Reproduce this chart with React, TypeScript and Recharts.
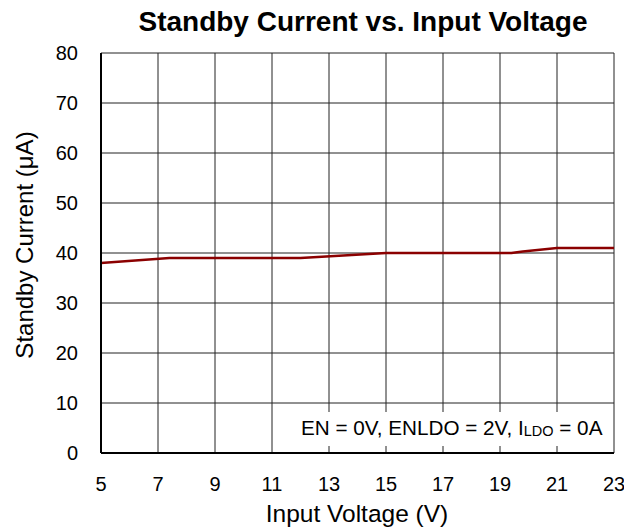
import { LineChart, Line, XAxis, YAxis, CartesianGrid } from 'recharts';

const voltage = [5, 7.4, 12, 15, 19.4, 19.8, 21, 23];
const current = [38, 39, 39, 40, 40, 40.3, 41, 41];
const xTicks = [5, 7, 9, 11, 13, 15, 17, 19, 21, 23];
const yTicks = [0, 10, 20, 30, 40, 50, 60, 70, 80];

const data = voltage.map((v, i) => ({ v, i: current[i] }));

const font = 'Arial, "Liberation Sans", sans-serif';

const App = () => {
    return (
        <div style={{ position: 'absolute', left: 0, top: 0, width: 624, height: 528, background: '#fff' }}>
            <LineChart width={624} height={528} data={data} margin={{ top: 53, right: 10, bottom: 45, left: 41 }}>
                <CartesianGrid stroke="#222" strokeWidth={1} horizontalValues={yTicks} verticalValues={xTicks} />
                <XAxis
                    dataKey="v"
                    type="number"
                    domain={[5, 23]}
                    ticks={xTicks}
                    height={30}
                    tickLine={false}
                    tickSize={0}
                    tickMargin={24}
                    axisLine={{ stroke: '#000', strokeWidth: 2 }}
                    tick={{ fill: '#000', fontSize: 20, fontFamily: font }}
                />
                <YAxis
                    type="number"
                    domain={[0, 80]}
                    ticks={yTicks}
                    width={60}
                    tickLine={false}
                    tickSize={0}
                    tickMargin={23}
                    axisLine={{ stroke: '#000', strokeWidth: 2 }}
                    tick={{ fill: '#000', fontSize: 20, fontFamily: font }}
                />
                <rect x={296} y={412} width={316} height={34} fill="#fff" />
                <text x={301} y={435} fontSize={20.7} fontFamily={font} fill="#000">
                    EN = 0V, ENLDO = 2V, I
                    <tspan fontSize={14.5} dy={1}>LDO</tspan>
                    <tspan dy={-1}> = 0A</tspan>
                </text>
                <Line
                    dataKey="i"
                    type="linear"
                    stroke="#8b0000"
                    strokeWidth={2.5}
                    dot={false}
                    isAnimationActive={false}
                />
                <text x={363} y={31} textAnchor="middle" fontSize={28} fontWeight="bold" fontFamily={font} fill="#000">
                    Standby Current vs. Input Voltage
                </text>
                <text x={357} y={522} textAnchor="middle" fontSize={24.5} fontFamily={font} fill="#000">
                    Input Voltage (V)
                </text>
                <text
                    x={33}
                    y={245}
                    textAnchor="middle"
                    fontSize={24}
                    fontFamily={font}
                    fill="#000"
                    transform="rotate(-90 33 245)"
                >
                    Standby Current (μA)
                </text>
            </LineChart>
        </div>
    );
};

export default App;
